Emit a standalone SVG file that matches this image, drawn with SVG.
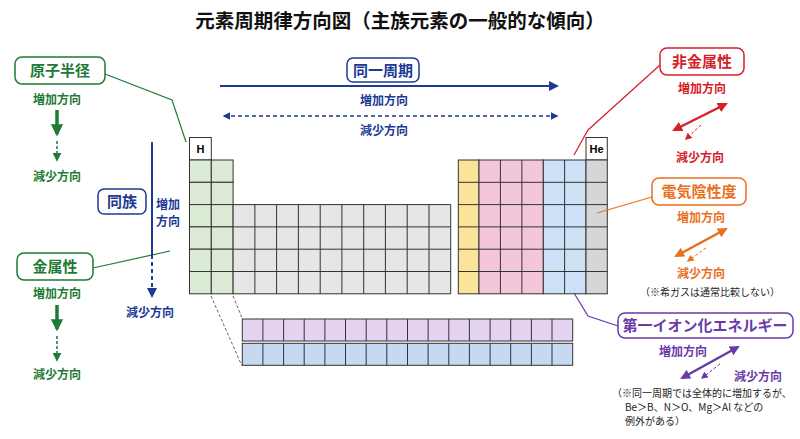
<svg xmlns="http://www.w3.org/2000/svg" width="800" height="439" viewBox="0 0 800 439">
<style>
text{font-family:"Noto Sans CJK JP","Noto Sans",sans-serif;font-weight:bold}
.t{font-size:19.5px;fill:#111}
.lb{font-size:15px}
.s{font-size:12px}
.n{font-size:10px;font-weight:normal;fill:#222}
.c{stroke:#333;stroke-width:1}
.g{fill:#dcebd5}.tr{fill:#e6e6e6}.y{fill:#f9e49a}.p{fill:#f4c6dc}.b{fill:#cce0f6}.h{fill:#d6d6d6}.la{fill:#e4d3f1}.ac{fill:#c7d8f1}
</style>
<defs>
<marker id="ag" viewBox="0 0 10 10" refX="8" refY="5" markerWidth="3.5" markerHeight="3.5" orient="auto-start-reverse"><path d="M0,0L10,5L0,10z" fill="#1e7a35"/></marker>
<marker id="agd" viewBox="0 0 10 10" refX="8" refY="5" markerWidth="6" markerHeight="6" orient="auto-start-reverse"><path d="M0,0L10,5L0,10z" fill="#1e7a35"/></marker>
<marker id="ab" viewBox="0 0 10 10" refX="8" refY="5" markerWidth="5" markerHeight="5" orient="auto-start-reverse"><path d="M0,0L10,5L0,10z" fill="#1b3b94"/></marker>
<marker id="ar" viewBox="0 0 10 10" refX="8" refY="5" markerWidth="4" markerHeight="4" orient="auto-start-reverse"><path d="M0,0L10,5L0,10z" fill="#d5202a"/></marker>
<marker id="ard" viewBox="0 0 10 10" refX="8" refY="5" markerWidth="7" markerHeight="7" orient="auto-start-reverse"><path d="M0,0L10,5L0,10z" fill="#d5202a"/></marker>
<marker id="ao" viewBox="0 0 10 10" refX="8" refY="5" markerWidth="4" markerHeight="4" orient="auto-start-reverse"><path d="M0,0L10,5L0,10z" fill="#e8701e"/></marker>
<marker id="aod" viewBox="0 0 10 10" refX="8" refY="5" markerWidth="7" markerHeight="7" orient="auto-start-reverse"><path d="M0,0L10,5L0,10z" fill="#e8701e"/></marker>
<marker id="ap" viewBox="0 0 10 10" refX="8" refY="5" markerWidth="4" markerHeight="4" orient="auto-start-reverse"><path d="M0,0L10,5L0,10z" fill="#6a3aa8"/></marker>
<marker id="apd" viewBox="0 0 10 10" refX="8" refY="5" markerWidth="7" markerHeight="7" orient="auto-start-reverse"><path d="M0,0L10,5L0,10z" fill="#6a3aa8"/></marker>
</defs>
<rect width="800" height="439" fill="#fff"/>
<text class="t" x="400" y="28" text-anchor="middle">元素周期律方向図（主族元素の一般的な傾向）</text>

<g id="table">
<rect class="c" x="189.5" y="137.5" width="21.8" height="22.5" fill="#fff"/>
<text x="200.4" y="153" font-size="11" text-anchor="middle" style="font-family:'Liberation Sans',sans-serif">H</text>
<rect class="c" x="586" y="137.5" width="21.3" height="22.5" fill="#fff"/>
<text x="596.6" y="153" font-size="11" text-anchor="middle" style="font-family:'Liberation Sans',sans-serif">He</text>
</g>
<g id="sblock" class="c g">
<rect x="189.5" y="160" width="21.8" height="22.3"/><rect x="211.3" y="160" width="21.8" height="22.3"/>
<rect x="189.5" y="182.3" width="21.8" height="22.3"/><rect x="211.3" y="182.3" width="21.8" height="22.3"/>
<rect x="189.5" y="204.6" width="21.8" height="22.3"/><rect x="211.3" y="204.6" width="21.8" height="22.3"/>
<rect x="189.5" y="226.9" width="21.8" height="22.3"/><rect x="211.3" y="226.9" width="21.8" height="22.3"/>
<rect x="189.5" y="249.2" width="21.8" height="22.3"/><rect x="211.3" y="249.2" width="21.8" height="22.3"/>
<rect x="189.5" y="271.5" width="21.8" height="22.3"/><rect x="211.3" y="271.5" width="21.8" height="22.3"/>
</g>
<g id="dblock">
<path class="c tr" d="M233.1,204.6h217.6v89.2h-217.6z"/>
<path d="M233.1,226.9h217.6M233.1,249.2h217.6M233.1,271.5h217.6M254.9,204.6v89.2M276.6,204.6v89.2M298.4,204.6v89.2M320.2,204.6v89.2M341.9,204.6v89.2M363.7,204.6v89.2M385.4,204.6v89.2M407.2,204.6v89.2M429,204.6v89.2" stroke="#333" fill="none"/>
</g>
<g id="pblock">
<rect class="c y" x="458.3" y="160" width="20.7" height="133.8"/>
<rect class="c p" x="479" y="160" width="64.3" height="133.8"/>
<rect class="c b" x="543.3" y="160" width="42.7" height="133.8"/>
<rect class="c h" x="586" y="160" width="21.3" height="133.8"/>
<path d="M458.3,182.3h149M458.3,204.6h149M458.3,226.9h149M458.3,249.2h149M458.3,271.5h149M500.4,160v133.8M521.9,160v133.8M564.6,160v133.8" stroke="#333" fill="none"/>
</g>
<g id="fblock">
<rect class="c la" x="242.3" y="319" width="330.4" height="22"/>
<rect class="c ac" x="242.3" y="343.3" width="330.4" height="22"/>
<path d="M262.9,319v22M283.6,319v22M304.2,319v22M324.9,319v22M345.5,319v22M366.2,319v22M386.8,319v22M407.5,319v22M428.1,319v22M448.8,319v22M469.4,319v22M490.1,319v22M510.7,319v22M531.4,319v22M552,319v22M262.9,343.3v22M283.6,343.3v22M304.2,343.3v22M324.9,343.3v22M345.5,343.3v22M366.2,343.3v22M386.8,343.3v22M407.5,343.3v22M428.1,343.3v22M448.8,343.3v22M469.4,343.3v22M490.1,343.3v22M510.7,343.3v22M531.4,343.3v22M552,343.3v22" stroke="#333" fill="none"/>
<path d="M211,296L242,366M233,296L242,318" stroke="#666" stroke-dasharray="3,2" fill="none"/>
</g>

<g id="connectors" fill="none">
<path d="M105,74L172,100L186,142" stroke="#1e7a35" stroke-width="1.2"/>
<path d="M93,268L170,251" stroke="#1e7a35" stroke-width="1.2"/>
<path d="M660,65L588,130L574,155" stroke="#d5202a" stroke-width="1.2"/>
<path d="M652,197L597,213" stroke="#e8701e" stroke-width="1.2"/>
<path d="M574,293L588,316L618,326" stroke="#6a3aa8" stroke-width="1.2"/>
<path d="M57,110V134" stroke="#1e7a35" stroke-width="3.5" marker-end="url(#ag)"/>
<path d="M57,141V160" stroke="#1e7a35" stroke-width="1.5" stroke-dasharray="3,2" marker-end="url(#agd)"/>
<path d="M57,305V329" stroke="#1e7a35" stroke-width="3.5" marker-end="url(#ag)"/>
<path d="M57,336V360" stroke="#1e7a35" stroke-width="1.5" stroke-dasharray="3,2" marker-end="url(#agd)"/>
<path d="M152,142V255" stroke="#1b3b94" stroke-width="2"/>
<path d="M152,255V296" stroke="#1b3b94" stroke-width="2" stroke-dasharray="4,3" marker-end="url(#ab)"/>
<path d="M220,86H557" stroke="#1b3b94" stroke-width="2" marker-end="url(#ab)"/>
<path d="M224,116H557" stroke="#1b3b94" stroke-width="1.5" stroke-dasharray="4,3" marker-start="url(#ab)" marker-end="url(#ab)"/>
<path d="M674,130L726,104" stroke="#d5202a" stroke-width="2.5" marker-start="url(#ar)" marker-end="url(#ar)"/>
<path d="M701,125L686,139" stroke="#d5202a" stroke-width="1" stroke-dasharray="3,2" marker-end="url(#ard)"/>
<path d="M676,256L726,229" stroke="#e8701e" stroke-width="2.5" marker-start="url(#ao)" marker-end="url(#ao)"/>
<path d="M706,248L688,261" stroke="#e8701e" stroke-width="1" stroke-dasharray="3,2" marker-end="url(#aod)"/>
<path d="M682,378L738,347" stroke="#6a3aa8" stroke-width="2.5" marker-start="url(#ap)" marker-end="url(#ap)"/>
<path d="M720,364L702,378" stroke="#6a3aa8" stroke-width="1" stroke-dasharray="3,2" marker-end="url(#apd)"/>
</g>

<g id="atomic-radius">
<rect x="15" y="57" width="90" height="27" rx="7" fill="#fff" stroke="#1e7a35" stroke-width="1.5"/>
<text class="lb" x="60" y="76" text-anchor="middle" fill="#1e7a35">原子半径</text>
<text class="s" x="57" y="104" text-anchor="middle" fill="#1e7a35">増加方向</text>
<text class="s" x="57" y="181" text-anchor="middle" fill="#1e7a35">減少方向</text>
</g>
<g id="metallic">
<rect x="17" y="253" width="76" height="27" rx="7" fill="#fff" stroke="#1e7a35" stroke-width="1.5"/>
<text class="lb" x="55" y="272" text-anchor="middle" fill="#1e7a35">金属性</text>
<text class="s" x="57" y="298" text-anchor="middle" fill="#1e7a35">増加方向</text>
<text class="s" x="57" y="379" text-anchor="middle" fill="#1e7a35">減少方向</text>
</g>
<g id="group">
<rect x="98" y="189" width="48" height="25" rx="6" fill="#fff" stroke="#1b3b94" stroke-width="1.5"/>
<text class="lb" x="122" y="207" text-anchor="middle" fill="#1b3b94">同族</text>
<text class="s" x="168" y="209" text-anchor="middle" fill="#1b3b94">増加</text>
<text class="s" x="168" y="226" text-anchor="middle" fill="#1b3b94">方向</text>
<text class="s" x="150" y="317" text-anchor="middle" fill="#1b3b94">減少方向</text>
</g>
<g id="period">
<rect x="347" y="58" width="72" height="24" rx="6" fill="#fff" stroke="#1b3b94" stroke-width="1.5"/>
<text class="lb" x="383" y="76" text-anchor="middle" fill="#1b3b94">同一周期</text>
<text class="s" x="384" y="105" text-anchor="middle" fill="#1b3b94">増加方向</text>
<text class="s" x="384" y="135" text-anchor="middle" fill="#1b3b94">減少方向</text>
</g>
<g id="nonmetal">
<rect x="660" y="48" width="84" height="27" rx="7" fill="#fff" stroke="#d5202a" stroke-width="1.5"/>
<text class="lb" x="702" y="67" text-anchor="middle" fill="#d5202a">非金属性</text>
<text class="s" x="702" y="93" text-anchor="middle" fill="#d5202a">増加方向</text>
<text class="s" x="700" y="162" text-anchor="middle" fill="#d5202a">減少方向</text>
</g>
<g id="electroneg">
<rect x="652" y="178" width="94" height="27" rx="7" fill="#fff" stroke="#e8701e" stroke-width="1.5"/>
<text class="lb" x="699" y="197" text-anchor="middle" fill="#e8701e">電気陰性度</text>
<text class="s" x="701" y="222" text-anchor="middle" fill="#e8701e">増加方向</text>
<text class="s" x="701" y="278" text-anchor="middle" fill="#e8701e">減少方向</text>
<text class="n" x="710" y="296" text-anchor="middle">（※希ガスは通常比較しない）</text>
</g>
<g id="ionization">
<rect x="618" y="313" width="175" height="25" rx="7" fill="#fff" stroke="#6a3aa8" stroke-width="1.5"/>
<text class="lb" x="705" y="331" text-anchor="middle" fill="#6a3aa8">第一イオン化エネルギー</text>
<text class="s" x="683" y="356" text-anchor="middle" fill="#6a3aa8">増加方向</text>
<text class="s" x="758" y="381" text-anchor="middle" fill="#6a3aa8">減少方向</text>
<text class="n" x="612" y="397">（※同一周期では全体的に増加するが、</text>
<text class="n" x="625" y="411">Be＞B、N＞O、Mg＞Al などの</text>
<text class="n" x="625" y="425">例外がある）</text>
</g>
</svg>
